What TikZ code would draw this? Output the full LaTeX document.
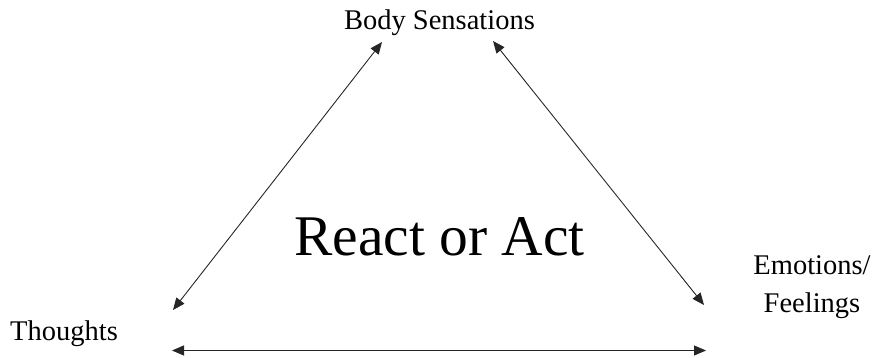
\documentclass[tikz,border=0pt]{standalone}
\usepackage{fontspec}
\setmainfont{Liberation Serif}
\usetikzlibrary{arrows.meta}
\begin{document}
\begin{tikzpicture}[x=1pt,y=-1pt,
  lbl/.style={font=\fontsize{28.5}{38}\selectfont, inner sep=0pt},
  big/.style={font=\fontsize{57.5}{60}\selectfont, inner sep=0pt},
  link/.style={{Triangle[length=12pt,width=10pt]}-{Triangle[length=12pt,width=10pt]}, line width=0.9pt, draw=black!85}]
\useasboundingbox (0,0) rectangle (877,357);
\node[lbl, anchor=base] (body) at (439.5,29) {Body Sensations};
\node[lbl, anchor=base west] (thoughts) at (10,340) {Thoughts};
\node[lbl, anchor=base, align=center] (emo) at (812,312) {Emotions/\\Feelings};
\node[big, anchor=base] (center) at (439.5,255) {React or Act};
\coordinate (sTop1) at (382,42);
\coordinate (tRight) at (173,310);
\coordinate (sTop2) at (493,41);
\coordinate (eLeft) at (704,305);
\coordinate (tBot) at (172,350.5);
\coordinate (eBot) at (706,350.5);
\draw[link] (tRight) -- (sTop1);
\draw[link] (eLeft) -- (sTop2);
\draw[link] (tBot) -- (eBot);
\end{tikzpicture}
\end{document}
